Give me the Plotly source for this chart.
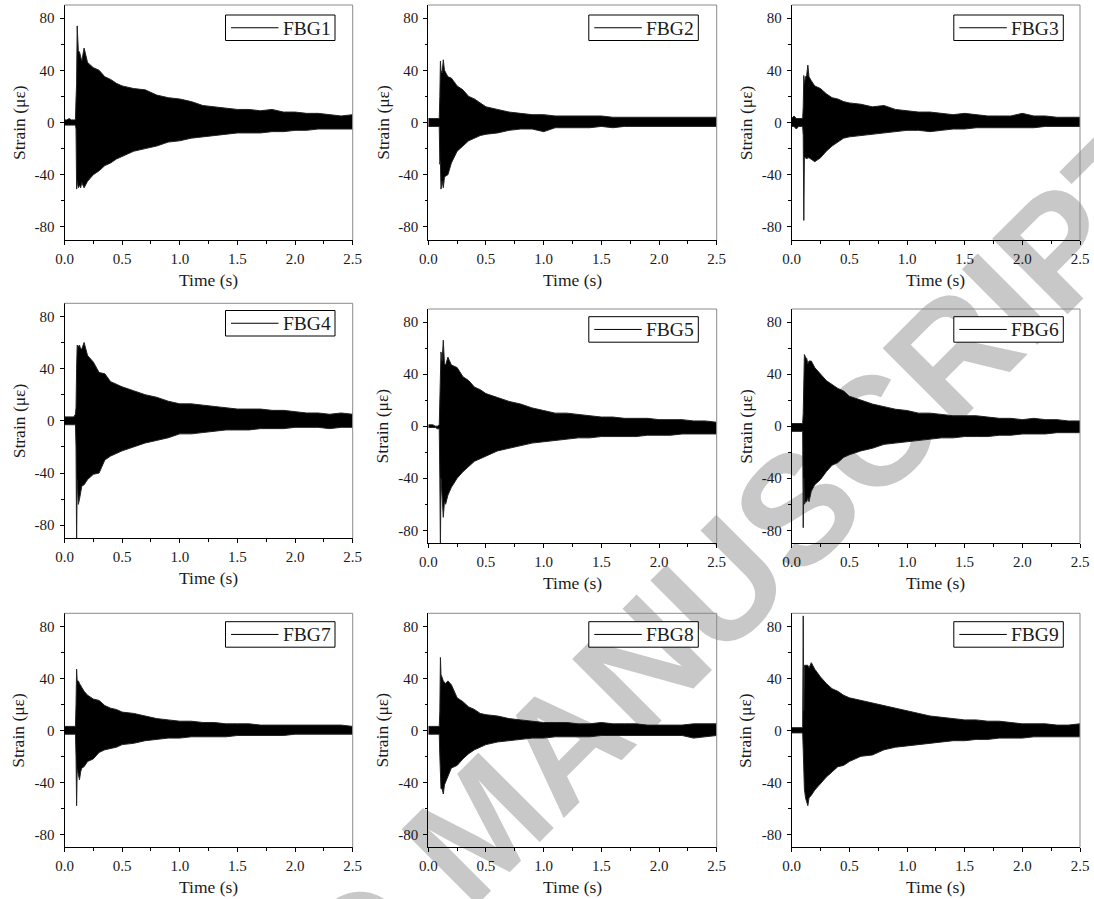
import math
import plotly.graph_objects as go

W, H = 1094, 899

# ---------------- data (outer envelope of each record) ----------------
time_s = [0.0, 0.02, 0.04, 0.06, 0.08, 0.095, 0.1, 0.105, 0.11, 0.12, 0.13, 0.14, 0.15, 0.17,
          0.2, 0.25, 0.3, 0.35, 0.4, 0.45, 0.5, 0.6, 0.7, 0.8, 0.9, 1.0, 1.1, 1.2, 1.3, 1.4,
          1.5, 1.6, 1.7, 1.8, 1.9, 2.0, 2.1, 2.2, 2.3, 2.4, 2.5]

fbg1_up = [2, 2, 3, 2, 2, 2, 18, 30, 74, 55, 54, 50, 47, 57, 46, 42, 40, 35, 33, 30, 28,
           26, 25, 21, 19, 18, 16, 13, 12, 11, 10, 10, 9, 10, 8, 8, 7, 7, 6, 5, 6]
fbg1_lo = [-2, -2, -2, -2, -2, -2, -5, -51, -45, -50, -48, -50, -46, -50, -45, -40, -37, -33, -31, -28, -26,
           -22, -20, -18, -15, -14, -12, -11, -10, -9, -8, -8, -8, -7, -7, -6, -6, -5, -5, -5, -5]

fbg2_up = [3, 3, 3, 3, 3, 3, 20, 47, 40, 38, 48, 40, 38, 35, 34, 28, 25, 20, 18, 15, 12,
           10, 8, 7, 6, 6, 5, 5, 5, 5, 5, 4, 4, 4, 4, 4, 4, 4, 4, 4, 4]
fbg2_lo = [-3, -3, -3, -3, -3, -3, -32, -30, -51, -45, -50, -42, -41, -40, -31, -22, -18, -14, -12, -10, -9,
           -8, -6, -5, -5, -7, -4, -4, -4, -4, -3, -4, -3, -3, -3, -3, -3, -3, -3, -3, -3]

fbg3_up = [3, 5, 3, 3, 3, 3, 12, 36, 30, 35, 36, 44, 35, 32, 28, 26, 22, 19, 18, 16, 15,
           14, 12, 13, 10, 9, 8, 8, 7, 6, 7, 6, 5, 5, 5, 7, 5, 5, 4, 4, 4]
fbg3_lo = [-3, -3, -5, -3, -3, -3, -10, -75, -27, -27, -28, -27, -27, -28, -30, -27, -22, -18, -15, -12, -11,
           -10, -9, -8, -7, -6, -6, -7, -6, -5, -5, -4, -4, -4, -4, -4, -4, -3, -3, -3, -3]

fbg4_up = [3, 3, 3, 3, 3, 5, 10, 40, 58, 57, 58, 55, 55, 60, 50, 45, 37, 36, 30, 28, 26,
           23, 20, 18, 15, 13, 13, 12, 11, 10, 9, 9, 9, 8, 8, 7, 6, 6, 5, 6, 5]
fbg4_lo = [-3, -3, -3, -3, -3, -3, -20, -95, -45, -64, -60, -56, -50, -49, -45, -41, -40, -30, -27, -25, -23,
           -20, -17, -15, -13, -10, -10, -9, -8, -7, -7, -7, -6, -6, -6, -5, -5, -5, -6, -5, -5]

fbg5_up = [1, 1, 1, 0, 0, 1, 15, 40, 57, 50, 66, 48, 47, 53, 47, 45, 38, 35, 30, 28, 25,
           22, 19, 17, 14, 12, 10, 10, 9, 8, 7, 7, 6, 6, 6, 5, 5, 5, 4, 4, 3]
fbg5_lo = [-1, -1, -1, -1, -2, -2, -40, -95, -40, -60, -70, -58, -60, -53, -47, -40, -35, -31, -27, -25, -23,
           -19, -17, -15, -13, -12, -11, -10, -9, -9, -8, -8, -8, -8, -7, -7, -7, -6, -6, -6, -6]

fbg6_up = [2, 2, 2, 2, 2, 2, 10, 55, 55, 53, 52, 48, 50, 50, 45, 40, 35, 32, 29, 27, 23,
           20, 17, 15, 13, 12, 10, 10, 9, 8, 8, 8, 7, 6, 6, 5, 6, 5, 5, 4, 4]
fbg6_lo = [-4, -4, -4, -4, -4, -4, -78, -40, -60, -58, -58, -55, -58, -50, -45, -41, -35, -30, -28, -24, -22,
           -19, -17, -14, -13, -12, -11, -10, -9, -9, -8, -8, -8, -7, -7, -6, -6, -6, -5, -5, -5]

fbg7_up = [3, 3, 3, 3, 3, 3, 20, 47, 38, 38, 36, 34, 33, 30, 27, 24, 23, 19, 17, 16, 14,
           13, 11, 9, 8, 7, 7, 6, 6, 5, 5, 5, 4, 4, 4, 4, 4, 4, 4, 4, 3]
fbg7_lo = [-3, -3, -3, -3, -3, -3, -20, -58, -30, -35, -38, -32, -29, -28, -24, -22, -17, -15, -14, -13, -11,
           -10, -8, -7, -6, -6, -5, -5, -5, -5, -4, -4, -4, -4, -4, -3, -3, -3, -3, -3, -3]

fbg8_up = [3, 3, 3, 3, 3, 3, 15, 56, 43, 40, 38, 37, 36, 38, 35, 25, 22, 18, 16, 13, 12,
           11, 9, 8, 7, 6, 6, 6, 5, 5, 6, 5, 5, 5, 4, 4, 4, 4, 5, 5, 5]
fbg8_lo = [-3, -3, -3, -3, -3, -3, -20, -35, -45, -45, -49, -42, -40, -35, -29, -27, -22, -18, -15, -13, -11,
           -9, -8, -7, -6, -6, -5, -5, -5, -5, -4, -4, -4, -4, -4, -4, -4, -4, -6, -5, -4]

fbg9_up = [2, 2, 2, 2, 2, 2, 88, 15, 50, 50, 50, 50, 48, 52, 47, 41, 36, 32, 30, 27, 25,
           23, 21, 19, 17, 15, 13, 11, 10, 9, 8, 8, 7, 7, 6, 5, 5, 5, 4, 4, 5]
fbg9_lo = [-2, -2, -2, -2, -2, -2, -15, -42, -45, -52, -55, -58, -52, -50, -46, -41, -36, -32, -28, -27, -24,
           -20, -19, -15, -13, -12, -11, -10, -9, -8, -8, -7, -7, -6, -6, -6, -5, -5, -5, -5, -5]

sensor_names = ["FBG1", "FBG2", "FBG3", "FBG4", "FBG5", "FBG6", "FBG7", "FBG8", "FBG9"]
upper = [fbg1_up, fbg2_up, fbg3_up, fbg4_up, fbg5_up, fbg6_up, fbg7_up, fbg8_up, fbg9_up]
lower = [fbg1_lo, fbg2_lo, fbg3_lo, fbg4_lo, fbg5_lo, fbg6_lo, fbg7_lo, fbg8_lo, fbg9_lo]

x_ticks = [0.0, 0.5, 1.0, 1.5, 2.0, 2.5]
y_ticks = [-80, -40, 0, 40, 80]

# ---------------- layout geometry (pixels) ----------------
col_px = [(64.5, 352.7), (428.3, 716.7), (791.7, 1080.0)]
panel_rows = [(5, 240), (5, 240), (5, 240),
              (303.3, 538.3), (309, 543.3), (309, 543.3),
              (613.3, 847.3), (613.3, 847.3), (613.3, 847.3)]
legend_tops = [15, 15, 15, 310.5, 316.7, 316.7, 621.7, 621.7, 621.7]
legend_rights = [335, 698.3, 1063.3]
LEG_W, LEG_H = 109.5, 25.5

SERIF = "Liberation Serif"
INK = "#1a1a1a"


def px_x(v):
    return v / W


def px_y(v):
    return 1 - v / H


fig = go.Figure()
layout = dict(
    width=W, height=H, autosize=False,
    margin=dict(l=0, r=0, t=0, b=0, pad=0, autoexpand=False),
    paper_bgcolor="white",
    plot_bgcolor="rgba(0,0,0,0)",
    showlegend=False,
)
annotations = []
shapes = []

for i in range(9):
    s = "" if i == 0 else str(i + 1)
    c = i % 3
    x0p, x1p = col_px[c]
    top, bot = panel_rows[i]
    xa, ya = "x" + s, "y" + s

    fig.add_trace(go.Scatter(x=time_s, y=lower[i], mode="lines",
                             line=dict(color="#222222", width=1),
                             xaxis=xa, yaxis=ya, showlegend=False, hoverinfo="skip"))
    fig.add_trace(go.Scatter(x=time_s, y=upper[i], mode="lines", fill="tonexty",
                             fillcolor="black", line=dict(color="#222222", width=1),
                             xaxis=xa, yaxis=ya, name=sensor_names[i], showlegend=False,
                             hoverinfo="skip"))

    tickfont = dict(family=SERIF, size=15, color=INK)
    layout["xaxis" + s] = dict(
        domain=[px_x(x0p), px_x(x1p)], anchor=ya, range=[0, 2.5], automargin=False,
        tickvals=x_ticks, ticktext=[f"{v:.1f}" for v in x_ticks],
        ticks="outside", ticklen=4, tickwidth=1, tickcolor="black",
        showline=True, linecolor="black", linewidth=1, mirror=False,
        showgrid=False, zeroline=False, tickfont=tickfont, ticklabelstandoff=1,
        minor=dict(tickvals=[0.25, 0.75, 1.25, 1.75, 2.25], ticks="outside", ticklen=2.5,
                   tickcolor="black", showgrid=False),
        fixedrange=True,
    )
    layout["yaxis" + s] = dict(
        domain=[px_y(bot), px_y(top)], anchor=xa, range=[-90, 90], automargin=False,
        tickvals=y_ticks, ticktext=[str(v) for v in y_ticks],
        ticks="outside", ticklen=4, tickwidth=1, tickcolor="black",
        showline=True, linecolor="black", linewidth=1, mirror=False,
        showgrid=False, zeroline=False, tickfont=tickfont, ticklabelstandoff=2,
        minor=dict(tickvals=[-60, -20, 20, 60], ticks="outside", ticklen=2.5,
                   tickcolor="black", showgrid=False),
        fixedrange=True,
    )
    # grey top / right frame
    shapes.append(dict(type="line", xref=xa + " domain", yref=ya + " domain",
                       x0=0, x1=1, y0=1, y1=1, line=dict(color="#8a8a8a", width=1)))
    shapes.append(dict(type="line", xref=xa + " domain", yref=ya + " domain",
                       x0=1, x1=1, y0=0, y1=1, line=dict(color="#8a8a8a", width=1)))

    # legend box (drawn as shapes + text)
    lr = legend_rights[c]
    ll = lr - LEG_W
    lt = legend_tops[i]
    lb = lt + LEG_H
    lm = (lt + lb) / 2
    shapes.append(dict(type="rect", xref="paper", yref="paper",
                       x0=px_x(ll), x1=px_x(lr), y0=px_y(lb), y1=px_y(lt),
                       fillcolor="white", line=dict(color="black", width=1)))
    shapes.append(dict(type="line", xref="paper", yref="paper",
                       x0=px_x(ll + 5.5), x1=px_x(ll + 53), y0=px_y(lm), y1=px_y(lm),
                       line=dict(color="black", width=1)))
    annotations.append(dict(text=sensor_names[i], xref="paper", yref="paper",
                            x=px_x(ll + 55.5), y=px_y(lm + 0.5), xanchor="left", yanchor="middle",
                            showarrow=False,
                            font=dict(family=SERIF, size=19.5, color=INK)))

    annotations.append(dict(text="Time (s)", xref="paper", yref="paper",
                            x=px_x((x0p + x1p) / 2), y=px_y(bot + 40),
                            xanchor="center", yanchor="middle", showarrow=False,
                            font=dict(family=SERIF, size=17.5, color=INK)))
    annotations.append(dict(text="Strain (\u03bc\u03b5)", xref="paper", yref="paper",
                            x=px_x(x0p - 46), y=px_y((top + bot) / 2), textangle=-90,
                            xanchor="center", yanchor="middle", showarrow=False,
                            font=dict(family=SERIF, size=17.5, color=INK)))

# watermark (drawn below the plots)
cx, cy, half = 470, 815, 420
ang = math.radians(45)
shapes.append(dict(
    type="line", xref="paper", yref="paper", layer="below",
    x0=px_x(cx - half * math.cos(ang)), y0=px_y(cy + half * math.sin(ang)),
    x1=px_x(cx + half * math.cos(ang)), y1=px_y(cy - half * math.sin(ang)),
    line=dict(color="rgba(0,0,0,0)", width=1),
    label=dict(text="ACCEPTED MANUSCRIPT", textposition="middle", yanchor="middle",
               textangle=-45,
               font=dict(family="Liberation Sans", size=155,
                         color="#c8c8c8", weight="bold")),
))

layout["annotations"] = annotations
layout["shapes"] = shapes
fig.update_layout(**layout)

post = (
    "document.documentElement.style.margin='0';"
    "document.documentElement.style.overflow='hidden';"
    "document.body.style.margin='0';document.body.style.padding='0';"
    "document.body.style.overflow='hidden';"
    "var gd=document.getElementById('{plot_id}');"
    "gd.style.position='absolute';gd.style.left='0px';gd.style.top='0px';"
)

fig.write_html(
    "out.html",
    config={"displayModeBar": False, "staticPlot": True, "responsive": False},
    default_width="1094px",
    default_height="899px",
    post_script=post,
)
